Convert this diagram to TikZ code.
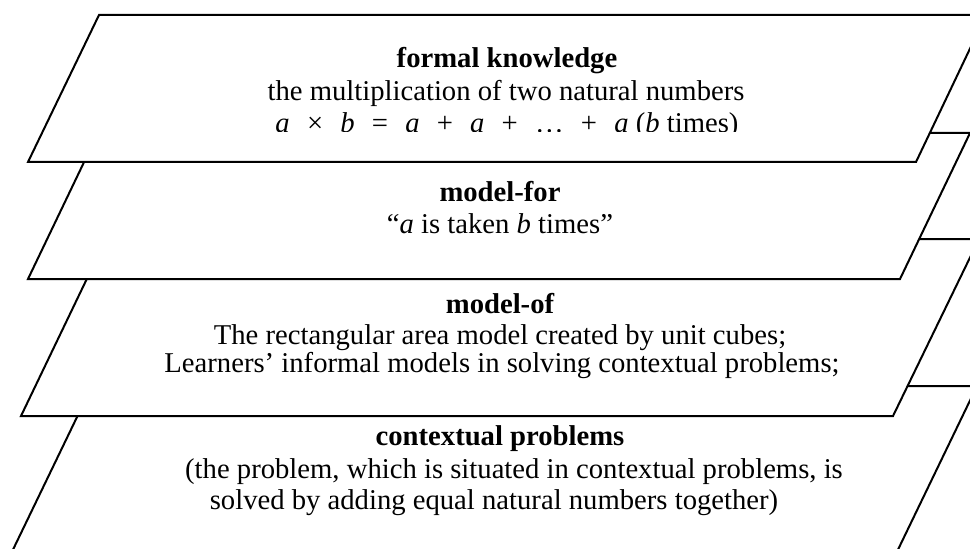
\documentclass[tikz,border=0pt]{standalone}
\usepackage{fontspec}
\setmainfont{Liberation Serif}
\newcommand{\mysp}{\hspace{0.6em}}
\tikzset{
  layer/.style={draw=black, line width=1.5pt, fill=white, line join=miter},
  txt/.style={anchor=base, inner sep=0pt, font=\fontsize{21.5}{24}\selectfont},
  ttl/.style={txt, font=\fontsize{21.5}{24}\selectfont\bfseries}
}
\begin{document}
\begin{tikzpicture}[x=0.75pt,y=-0.75pt]
\useasboundingbox (0,0) rectangle (970,549);
\clip (0,0) rectangle (970,549);
% layer 4: contextual problems
\draw[layer] (92,386) -- (977,386) -- (893,560) -- (8,560) -- cycle;
% layer 3: model-of
\draw[layer] (106,239) -- (979,239) -- (893,416) -- (21,416) -- cycle;
% layer 2: model-for
\draw[layer] (98,133) -- (970,133) -- (900,279) -- (28,279) -- cycle;
% layer 1: formal knowledge
\draw[layer] (99,15) -- (986,15) -- (916,162) -- (28,162) -- cycle;

\node[ttl] (fk) at (507,68) {formal knowledge};
\node[txt] (fk1) at (506,101) {the multiplication of two natural numbers};
\begin{scope}
\clip (0,0) rectangle (970,131.5);
\node[txt] (fk2) at (507,133) {\textit{a}\mysp×\mysp\textit{b}\mysp=\mysp\textit{a}\mysp+\mysp\textit{a}\mysp+\mysp…\mysp+\mysp\textit{a} (\textit{b} times)};
\end{scope}

\node[ttl] (mf) at (500,201) {model-for};
\node[txt] (mf1) at (500,233) {“\textit{a} is taken \textit{b} times”};

\node[ttl] (mo) at (500,313) {model-of};
\node[txt] (mo1) at (500,344) {The rectangular area model created by unit cubes;};
\node[txt] (mo2) at (502,372) {Learners’ informal models in solving contextual problems;};

\node[ttl] (cp) at (500,445) {contextual problems};
\node[txt] (cp1) at (514,478) {(the problem, which is situated in contextual problems, is};
\node[txt] (cp2) at (494,509) {solved by adding equal natural numbers together)};
\end{tikzpicture}
\end{document}
